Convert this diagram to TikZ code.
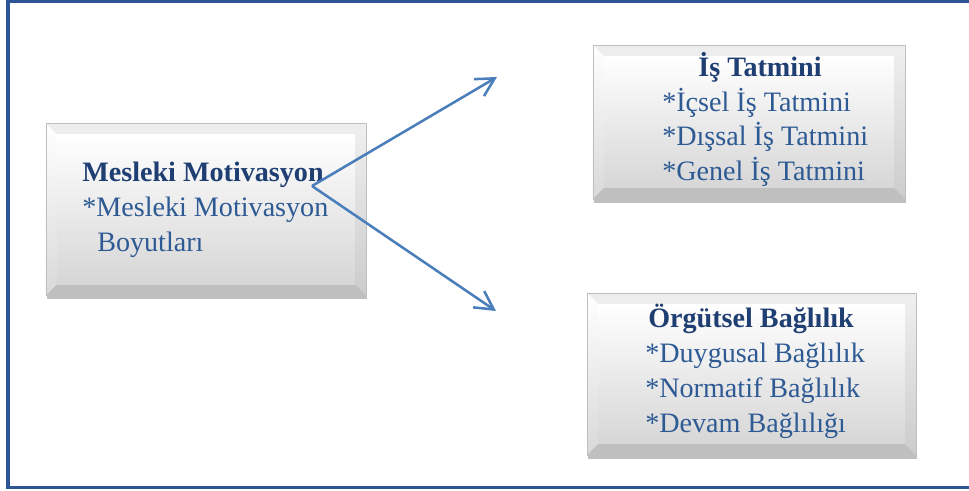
\documentclass[tikz,border=0pt]{standalone}
\usepackage{fontspec}
\setmainfont{Liberation Serif}
\usepackage{xcolor}
\usepackage{tikz}
\usetikzlibrary{arrows.meta,calc,shadows}

\definecolor{framecol}{HTML}{2F5496}
\definecolor{headcol}{HTML}{1F3F73}
\definecolor{itemcol}{HTML}{2E5A94}
\definecolor{arrowcol}{HTML}{4A7EBB}
\newcommand{\bev}{0.28cm}

\tikzset{
  panel/.style={rectangle, draw=gray!50, line width=0.5pt, fill=gray!15,
    drop shadow={shadow xshift=0.5pt, shadow yshift=-2.5pt, opacity=0.5},
    path picture={
      \coordinate (bbnw) at (path picture bounding box.north west);
      \coordinate (bbne) at (path picture bounding box.north east);
      \coordinate (bbsw) at (path picture bounding box.south west);
      \coordinate (bbse) at (path picture bounding box.south east);
      \fill[gray!14] (bbnw) -- (bbne) -- ($(bbne)+(-\bev,-\bev)$) -- ($(bbnw)+(\bev,-\bev)$) -- cycle;
      \shade[top color=white, bottom color=gray!30] (bbnw) -- ($(bbnw)+(\bev,-\bev)$) -- ($(bbsw)+(\bev,\bev)$) -- (bbsw) -- cycle;
      \shade[top color=gray!12, bottom color=gray!40] (bbne) -- ($(bbne)+(-\bev,-\bev)$) -- ($(bbse)+(-\bev,\bev)$) -- (bbse) -- cycle;
      \fill[gray!50] (bbsw) -- ($(bbsw)+(\bev,\bev)$) -- ($(bbse)+(-\bev,\bev)$) -- (bbse) -- cycle;
      \shade[top color=white, bottom color=gray!32] ($(bbnw)+(\bev,-\bev)$) rectangle ($(bbse)+(-\bev,\bev)$);
    }},
  head/.style={inner sep=0pt, text=headcol, font=\fontsize{20}{24}\selectfont\bfseries},
  item/.style={inner sep=0pt, text=itemcol, font=\fontsize{20}{24}\selectfont},
  link/.style={draw=arrowcol, line width=1.8pt, -{Straight Barb[length=13pt,width=14pt]}}
}

\begin{document}
\begin{tikzpicture}[x=0.025cm, y=-0.025cm]
\useasboundingbox (0,0) rectangle (969,491);
\begin{scope}
  \clip (0,0) rectangle (969,491);
  \draw[framecol, line width=2.2pt] (8,1.5) rectangle (990,487.5);
\end{scope}

% boxes
\node[panel, minimum width=8cm, minimum height=4.3cm] (mot) at (206,209.5) {};
\node[panel, minimum width=7.8cm, minimum height=3.85cm] (tat) at (749,122) {};
\node[panel, minimum width=8.22cm, minimum height=4.05cm] (bag) at (751.5,374) {};

% left box text
\node[head, anchor=base west] (motHead) at (82,182) {Mesleki Motivasyon};
\node[item, anchor=base west] (motA) at (82,217) {*Mesleki Motivasyon};
\node[item, anchor=base west] (motB) at (97,252) {Boyutları};

% upper right box text
\node[head, anchor=base] (tatHead) at (760,77) {İş Tatmini};
\node[item, anchor=base west] (tatA) at (662,112) {*İçsel İş Tatmini};
\node[item, anchor=base west] (tatB) at (662,146) {*Dışsal İş Tatmini};
\node[item, anchor=base west] (tatC) at (662,181) {*Genel İş Tatmini};

% lower right box text
\node[head, anchor=base west] (bagHead) at (648,328) {Örgütsel Bağlılık};
\node[item, anchor=base west] (bagA) at (645,363) {*Duygusal Bağlılık};
\node[item, anchor=base west] (bagB) at (645,398) {*Normatif Bağlılık};
\node[item, anchor=base west] (bagC) at (645,433) {*Devam Bağlılığı};

% arrows
\coordinate (fork) at (312,186);
\coordinate (tatTip) at (497,77);
\coordinate (bagTip) at (496,311);
\draw[link] (fork) -- (tatTip);
\draw[link] (fork) -- (bagTip);
\end{tikzpicture}
\end{document}
